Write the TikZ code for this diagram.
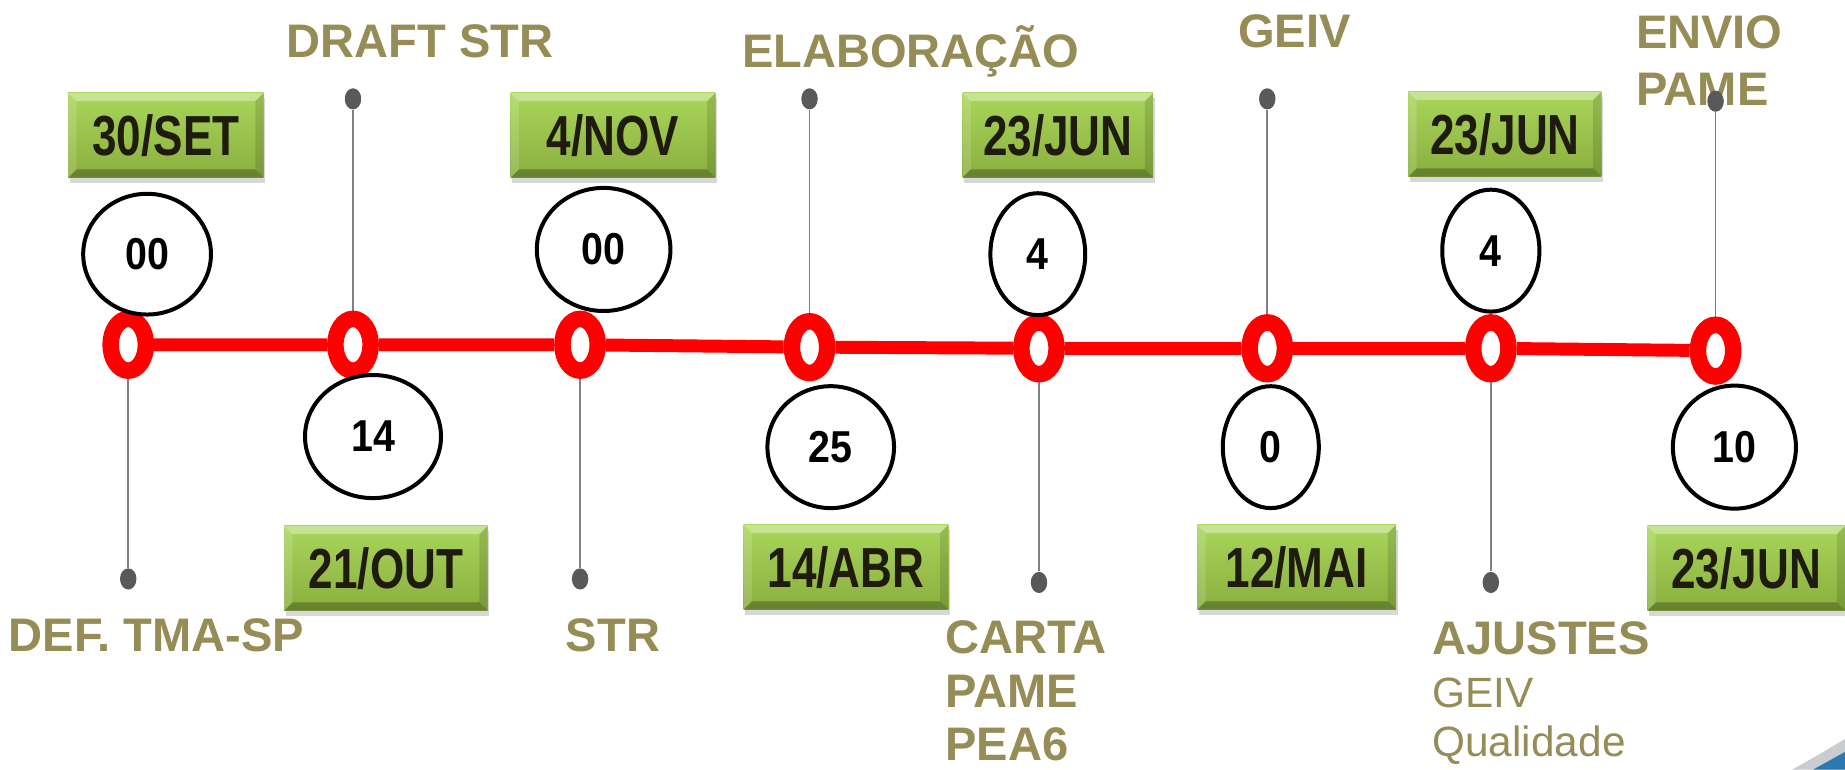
\documentclass[tikz,border=0pt]{standalone}
\usepackage{fontspec}
\setmainfont{Liberation Sans}
\newfontfamily\narrowfam[FakeStretch=0.78]{Liberation Sans}
\newfontfamily\numfam[FakeStretch=0.88]{Liberation Sans}
\usetikzlibrary{shapes.geometric,shadows,backgrounds}
\definecolor{olivetxt}{HTML}{968C56}
\definecolor{ringred}{HTML}{FF0000}
\definecolor{dotgray}{HTML}{595959}
\definecolor{stemgray}{HTML}{808080}
\definecolor{gTop}{HTML}{A9D65B}
\definecolor{gBot}{HTML}{8AAE3E}
\definecolor{dateTxt}{HTML}{1F1B0F}
\definecolor{cornerblue}{HTML}{2B79B3}
\definecolor{cornergray}{HTML}{C9CDD0}
\begin{document}
\begin{tikzpicture}[x=0.5pt,y=-0.5pt,
  ring/.style={ellipse, draw=ringred, fill=white, line width=7pt, minimum width=15pt, minimum height=22pt, inner sep=0pt},
  gdot/.style={ellipse, fill=dotgray, minimum width=7pt, minimum height=9pt, inner sep=0pt},
  stem/.style={draw=stemgray, line width=0.75pt},
  redline/.style={draw=ringred, line width=5.5pt},
  num/.style={ellipse, draw=black, line width=1.7pt, fill=white, inner sep=0pt, font=\numfam\bfseries\fontsize{19pt}{19pt}\selectfont},
  datebox/.style={rectangle, inner sep=0pt, minimum height=36pt, minimum width=#1,
    top color=gTop, bottom color=gBot, text=dateTxt,
    font=\narrowfam\bfseries\fontsize{24pt}{24pt}\selectfont,
    drop shadow={opacity=0.3, shadow xshift=0.6pt, shadow yshift=-2.2pt},
    path picture={
      \coordinate (pNW) at (path picture bounding box.north west);
      \coordinate (pNE) at (path picture bounding box.north east);
      \coordinate (pSW) at (path picture bounding box.south west);
      \coordinate (pSE) at (path picture bounding box.south east);
      \coordinate (qNW) at ([shift={(3.5pt,-3.5pt)}]pNW);
      \coordinate (qNE) at ([shift={(-3.5pt,-3.5pt)}]pNE);
      \coordinate (qSW) at ([shift={(3.5pt,3.5pt)}]pSW);
      \coordinate (qSE) at ([shift={(-3.5pt,3.5pt)}]pSE);
      \fill[white, fill opacity=0.35] (pNW) -- (pNE) -- (qNE) -- (qNW) -- cycle;
      \fill[black, fill opacity=0.25] (pSW) -- (pSE) -- (qSE) -- (qSW) -- cycle;
      \fill[white, fill opacity=0.15] (pNW) -- (qNW) -- (qSW) -- (pSW) -- cycle;
      \fill[black, fill opacity=0.12] (pNE) -- (qNE) -- (qSE) -- (pSE) -- cycle;
    }},
  lbl/.style={text=olivetxt, font=\bfseries\fontsize{20pt}{20pt}\selectfont, inner sep=0pt, anchor=base west},
  lblc/.style={lbl, anchor=base},
  lblr/.style={text=olivetxt, font=\fontsize{18pt}{18pt}\selectfont, inner sep=0pt, anchor=base west}
]
\useasboundingbox (0,0) rectangle (1568,654);

% corner decoration
\fill[cornergray] (1523,654) .. controls (1538,646) and (1553,637) .. (1568,628) -- (1568,654) -- cycle;
\fill[cornerblue] (1541,654) .. controls (1550,649) and (1559,644) .. (1568,639) -- (1568,654) -- cycle;

% labels
\node[lbl] (lDEF) at (7,554) {DEF. TMA-SP};
\node[lblc] (lDRAFT) at (357,49) {DRAFT STR};
\node[lblc] (lSTR) at (521,554) {STR};
\node[lblc] (lELAB) at (774,57) {ELABORAÇÃO};
\node[lbl] (lCARTA) at (803,555) {CARTA};
\node[lbl] (lPAME) at (803,601) {PAME};
\node[lbl] (lPEA) at (803,646) {PEA6};
\node[lblc] (lGEIV) at (1100,40) {GEIV};
\node[lbl] (lAJ) at (1217,556) {AJUSTES};
\node[lblr] (lAJg) at (1217,601) {GEIV};
\node[lblr] (lAJq) at (1217,643) {Qualidade};
\node[lbl] (lENV) at (1390,41) {ENVIO};
\node[lbl] (lENVp) at (1390,90) {PAME};

% rings
\node[ring] (r1) at (109,293) {};
\node[ring] (r2) at (300,293) {};
\node[ring] (r3) at (493,293) {};
\node[ring] (r4) at (688,295) {};
\node[ring] (r5) at (883,296) {};
\node[ring] (r6) at (1077,296) {};
\node[ring] (r7) at (1267,296) {};
\node[ring] (r8) at (1458,298) {};

% stem end dots
\node[gdot] (d1) at (109,492) {};
\node[gdot] (d2) at (300,84) {};
\node[gdot] (d3) at (493,492) {};
\node[gdot] (d4) at (688,84) {};
\node[gdot] (d5) at (883,495) {};
\node[gdot] (d6) at (1077,84) {};
\node[gdot] (d7) at (1267,495) {};
\node[gdot] (d8) at (1458,86) {};

% count circles
\node[num, minimum width=54.3pt, minimum height=51.3pt] (c1) at (125,216) {00};
\node[num, minimum width=57.8pt, minimum height=52.3pt] (c2) at (317,371) {14};
\node[num, minimum width=56.8pt, minimum height=52.3pt] (c3) at (513,212) {00};
\node[num, minimum width=53.8pt, minimum height=51.8pt] (c4) at (706,380) {25};
\node[num, minimum width=40.3pt, minimum height=51.8pt] (c5) at (882,216) {4};
\node[num, minimum width=40.8pt, minimum height=51.8pt] (c6) at (1080,380) {0};
\node[num, minimum width=41.3pt, minimum height=51.8pt] (c7) at (1267,213) {4};
\node[num, minimum width=52.3pt, minimum height=52.3pt] (c8) at (1474,380) {10};

% date boxes
\node[datebox=83pt] (b1) at (141,115) {30/SET};
\node[datebox=86.5pt] (b2) at (328,483) {21/OUT};
\node[datebox=87pt] (b3) at (521,115) {4/NOV};
\node[datebox=87pt] (b4) at (719,482) {14/ABR};
\node[datebox=81pt] (b5) at (899,115) {23/JUN};
\node[datebox=84.5pt] (b6) at (1102,482) {12/MAI};
\node[datebox=82pt] (b7) at (1279,114) {23/JUN};
\node[datebox=84pt] (b8) at (1484,483) {23/JUN};

% connectors
\begin{scope}[on background layer]
  \fill[white] (0,0) rectangle (1568,654);
  \draw[redline] (r1) -- (r2) -- (r3) -- (r4) -- (r5) -- (r6) -- (r7) -- (r8);
  \draw[stem] (r1) -- (d1);
  \draw[stem] (r2) -- (d2);
  \draw[stem] (r3) -- (d3);
  \draw[stem] (r4) -- (d4);
  \draw[stem] (r5) -- (d5);
  \draw[stem] (r6) -- (d6);
  \draw[stem] (r7) -- (d7);
  \draw[stem] (r8) -- (d8);
\end{scope}
\end{tikzpicture}
\end{document}
